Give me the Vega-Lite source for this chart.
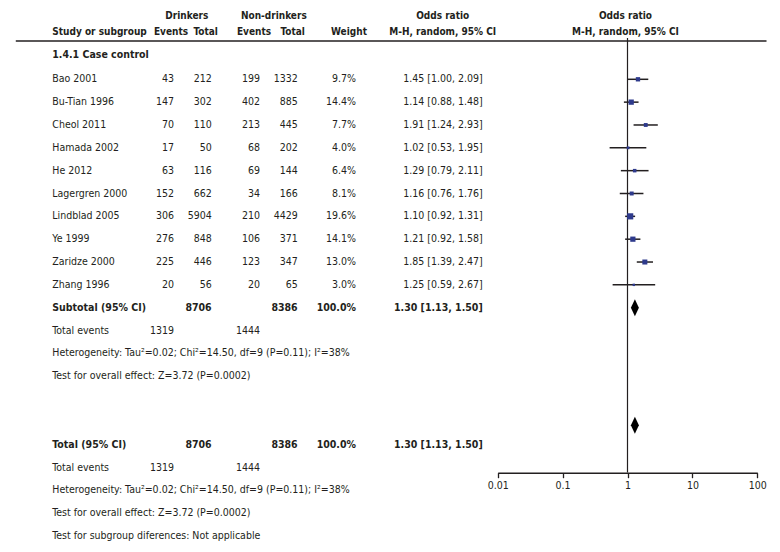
{
  "$schema": "https://vega.github.io/schema/vega-lite/v6.json",
  "width": 780,
  "height": 552,
  "autosize": {"type": "fit", "contains": "padding"},
  "padding": 0,
  "background": "white",
  "config": {
    "view": {"stroke": null},
    "text": {"font": "DejaVu Sans Condensed, Roboto, sans-serif", "fontSize": 10.5, "color": "#231f20", "baseline": "middle"},
    "axis": {"labelFont": "DejaVu Sans Condensed, Roboto, sans-serif", "labelFontSize": 10.5, "labelColor": "#231f20"}
  },
  "datasets": {
    "rows": [
      {"row": -1.05, "label": "1.4.1 Case control", "kind": "group"},
      {"row": 0, "label": "Bao 2001", "kind": "study", "e1": 43, "t1": 212, "e2": 199, "t2": 1332, "wt": 0.097, "or": 1.45, "lo": 1.00, "hi": 2.09, "ortext": "1.45 [1.00, 2.09]"},
      {"row": 1, "label": "Bu-Tian 1996", "kind": "study", "e1": 147, "t1": 302, "e2": 402, "t2": 885, "wt": 0.144, "or": 1.14, "lo": 0.88, "hi": 1.48, "ortext": "1.14 [0.88, 1.48]"},
      {"row": 2, "label": "Cheol 2011", "kind": "study", "e1": 70, "t1": 110, "e2": 213, "t2": 445, "wt": 0.077, "or": 1.91, "lo": 1.24, "hi": 2.93, "ortext": "1.91 [1.24, 2.93]"},
      {"row": 3, "label": "Hamada 2002", "kind": "study", "e1": 17, "t1": 50, "e2": 68, "t2": 202, "wt": 0.040, "or": 1.02, "lo": 0.53, "hi": 1.95, "ortext": "1.02 [0.53, 1.95]"},
      {"row": 4, "label": "He 2012", "kind": "study", "e1": 63, "t1": 116, "e2": 69, "t2": 144, "wt": 0.064, "or": 1.29, "lo": 0.79, "hi": 2.11, "ortext": "1.29 [0.79, 2.11]"},
      {"row": 5, "label": "Lagergren 2000", "kind": "study", "e1": 152, "t1": 662, "e2": 34, "t2": 166, "wt": 0.081, "or": 1.16, "lo": 0.76, "hi": 1.76, "ortext": "1.16 [0.76, 1.76]"},
      {"row": 6, "label": "Lindblad 2005", "kind": "study", "e1": 306, "t1": 5904, "e2": 210, "t2": 4429, "wt": 0.196, "or": 1.10, "lo": 0.92, "hi": 1.31, "ortext": "1.10 [0.92, 1.31]"},
      {"row": 7, "label": "Ye 1999", "kind": "study", "e1": 276, "t1": 848, "e2": 106, "t2": 371, "wt": 0.141, "or": 1.21, "lo": 0.92, "hi": 1.58, "ortext": "1.21 [0.92, 1.58]"},
      {"row": 8, "label": "Zaridze 2000", "kind": "study", "e1": 225, "t1": 446, "e2": 123, "t2": 347, "wt": 0.130, "or": 1.85, "lo": 1.39, "hi": 2.47, "ortext": "1.85 [1.39, 2.47]"},
      {"row": 9, "label": "Zhang 1996", "kind": "study", "e1": 20, "t1": 56, "e2": 20, "t2": 65, "wt": 0.030, "or": 1.25, "lo": 0.59, "hi": 2.67, "ortext": "1.25 [0.59, 2.67]"},
      {"row": 10, "label": "Subtotal (95% CI)", "kind": "summary", "t1": 8706, "t2": 8386, "wt": 1.0, "or": 1.30, "lo": 1.13, "hi": 1.50, "ortext": "1.30 [1.13, 1.50]", "drow": 10},
      {"row": 11, "label": "Total events", "kind": "note", "e1": 1319, "e2": 1444},
      {"row": 12, "label": "Heterogeneity: Tau²=0.02; Chi²=14.50, df=9 (P=0.11); I²=38%", "kind": "note"},
      {"row": 13, "label": "Test for overall effect: Z=3.72 (P=0.0002)", "kind": "note"},
      {"row": 16, "label": "Total (95% CI)", "kind": "summary", "t1": 8706, "t2": 8386, "wt": 1.0, "or": 1.30, "lo": 1.13, "hi": 1.50, "ortext": "1.30 [1.13, 1.50]", "drow": 15.15},
      {"row": 17, "label": "Total events", "kind": "note", "e1": 1319, "e2": 1444},
      {"row": 18, "label": "Heterogeneity: Tau²=0.02; Chi²=14.50, df=9 (P=0.11); I²=38%", "kind": "note"},
      {"row": 19, "label": "Test for overall effect: Z=3.72 (P=0.0002)", "kind": "note"},
      {"row": 20, "label": "Test for subgroup diferences: Not applicable", "kind": "note"}
    ],
    "heads": [
      {"row": -2.77, "drink": "Drinkers", "nondrink": "Non-drinkers", "orh": "Odds ratio"},
      {"row": -2.07, "study": "Study or subgroup", "e1": "Events", "t1": "Total", "e2": "Events", "t2": "Total", "w": "Weight", "orh": "M-H, random, 95% CI"}
    ],
    "lines": [
      {"top": -1.81, "bottom": 17.22, "rulerow": -1.677, "null_or": 1}
    ]
  },
  "layer": [
    {
      "layer": [
        {"data": {"name": "rows"}, "transform": [{"filter": "datum.kind == 'study' || datum.kind == 'note'"}],
         "mark": {"type": "text", "align": "left"},
         "encoding": {"x": {"datum": 0, "type": "quantitative", "scale": {"domain": [0,1,2,3,4,5,6], "range": [52.3,174,211.7,260,297.7,356,482.7], "nice": false, "zero": false}, "axis": null},
                      "y": {"field": "row", "type": "quantitative", "scale": {"domain": [-3.472, 20.696], "reverse": true, "nice": false, "zero": false}, "axis": null},
                      "text": {"field": "label", "type": "nominal"}}},
        {"data": {"name": "rows"}, "transform": [{"filter": "datum.kind == 'group' || datum.kind == 'summary'"}],
         "mark": {"type": "text", "align": "left", "fontWeight": "bold"},
         "encoding": {"x": {"datum": 0, "type": "quantitative", "scale": {"domain": [0,1,2,3,4,5,6], "range": [52.3,174,211.7,260,297.7,356,482.7], "nice": false, "zero": false}, "axis": null},
                      "y": {"field": "row", "type": "quantitative", "scale": {"domain": [-3.472, 20.696], "reverse": true, "nice": false, "zero": false}, "axis": null},
                      "text": {"field": "label", "type": "nominal"}}},
        {"data": {"name": "rows"}, "transform": [{"filter": "isValid(datum.e1)"}],
         "mark": {"type": "text", "align": "right"},
         "encoding": {"x": {"datum": 1, "type": "quantitative", "scale": {"domain": [0,1,2,3,4,5,6], "range": [52.3,174,211.7,260,297.7,356,482.7], "nice": false, "zero": false}, "axis": null},
                      "y": {"field": "row", "type": "quantitative", "scale": {"domain": [-3.472, 20.696], "reverse": true, "nice": false, "zero": false}, "axis": null},
                      "text": {"field": "e1", "type": "nominal"}}},
        {"data": {"name": "rows"}, "transform": [{"filter": "isValid(datum.e2)"}],
         "mark": {"type": "text", "align": "right"},
         "encoding": {"x": {"datum": 3, "type": "quantitative", "scale": {"domain": [0,1,2,3,4,5,6], "range": [52.3,174,211.7,260,297.7,356,482.7], "nice": false, "zero": false}, "axis": null},
                      "y": {"field": "row", "type": "quantitative", "scale": {"domain": [-3.472, 20.696], "reverse": true, "nice": false, "zero": false}, "axis": null},
                      "text": {"field": "e2", "type": "nominal"}}},
        {"data": {"name": "rows"}, "transform": [{"filter": "datum.kind == 'study'"}],
         "mark": {"type": "text", "align": "right"},
         "encoding": {"x": {"datum": 2, "type": "quantitative", "scale": {"domain": [0,1,2,3,4,5,6], "range": [52.3,174,211.7,260,297.7,356,482.7], "nice": false, "zero": false}, "axis": null},
                      "y": {"field": "row", "type": "quantitative", "scale": {"domain": [-3.472, 20.696], "reverse": true, "nice": false, "zero": false}, "axis": null},
                      "text": {"field": "t1", "type": "nominal"}}},
        {"data": {"name": "rows"}, "transform": [{"filter": "datum.kind == 'summary'"}],
         "mark": {"type": "text", "align": "right", "fontWeight": "bold"},
         "encoding": {"x": {"datum": 2, "type": "quantitative", "scale": {"domain": [0,1,2,3,4,5,6], "range": [52.3,174,211.7,260,297.7,356,482.7], "nice": false, "zero": false}, "axis": null},
                      "y": {"field": "row", "type": "quantitative", "scale": {"domain": [-3.472, 20.696], "reverse": true, "nice": false, "zero": false}, "axis": null},
                      "text": {"field": "t1", "type": "nominal"}}},
        {"data": {"name": "rows"}, "transform": [{"filter": "datum.kind == 'study'"}],
         "mark": {"type": "text", "align": "right"},
         "encoding": {"x": {"datum": 4, "type": "quantitative", "scale": {"domain": [0,1,2,3,4,5,6], "range": [52.3,174,211.7,260,297.7,356,482.7], "nice": false, "zero": false}, "axis": null},
                      "y": {"field": "row", "type": "quantitative", "scale": {"domain": [-3.472, 20.696], "reverse": true, "nice": false, "zero": false}, "axis": null},
                      "text": {"field": "t2", "type": "nominal"}}},
        {"data": {"name": "rows"}, "transform": [{"filter": "datum.kind == 'summary'"}],
         "mark": {"type": "text", "align": "right", "fontWeight": "bold"},
         "encoding": {"x": {"datum": 4, "type": "quantitative", "scale": {"domain": [0,1,2,3,4,5,6], "range": [52.3,174,211.7,260,297.7,356,482.7], "nice": false, "zero": false}, "axis": null},
                      "y": {"field": "row", "type": "quantitative", "scale": {"domain": [-3.472, 20.696], "reverse": true, "nice": false, "zero": false}, "axis": null},
                      "text": {"field": "t2", "type": "nominal"}}},
        {"data": {"name": "rows"}, "transform": [{"filter": "datum.kind == 'study'"}],
         "mark": {"type": "text", "align": "right"},
         "encoding": {"x": {"datum": 5, "type": "quantitative", "scale": {"domain": [0,1,2,3,4,5,6], "range": [52.3,174,211.7,260,297.7,356,482.7], "nice": false, "zero": false}, "axis": null},
                      "y": {"field": "row", "type": "quantitative", "scale": {"domain": [-3.472, 20.696], "reverse": true, "nice": false, "zero": false}, "axis": null},
                      "text": {"field": "wt", "type": "quantitative", "format": ".1%"}}},
        {"data": {"name": "rows"}, "transform": [{"filter": "datum.kind == 'summary'"}],
         "mark": {"type": "text", "align": "right", "fontWeight": "bold"},
         "encoding": {"x": {"datum": 5, "type": "quantitative", "scale": {"domain": [0,1,2,3,4,5,6], "range": [52.3,174,211.7,260,297.7,356,482.7], "nice": false, "zero": false}, "axis": null},
                      "y": {"field": "row", "type": "quantitative", "scale": {"domain": [-3.472, 20.696], "reverse": true, "nice": false, "zero": false}, "axis": null},
                      "text": {"field": "wt", "type": "quantitative", "format": ".1%"}}},
        {"data": {"name": "rows"}, "transform": [{"filter": "datum.kind == 'study'"}],
         "mark": {"type": "text", "align": "right"},
         "encoding": {"x": {"datum": 6, "type": "quantitative", "scale": {"domain": [0,1,2,3,4,5,6], "range": [52.3,174,211.7,260,297.7,356,482.7], "nice": false, "zero": false}, "axis": null},
                      "y": {"field": "row", "type": "quantitative", "scale": {"domain": [-3.472, 20.696], "reverse": true, "nice": false, "zero": false}, "axis": null},
                      "text": {"field": "ortext", "type": "nominal"}}},
        {"data": {"name": "rows"}, "transform": [{"filter": "datum.kind == 'summary'"}],
         "mark": {"type": "text", "align": "right", "fontWeight": "bold"},
         "encoding": {"x": {"datum": 6, "type": "quantitative", "scale": {"domain": [0,1,2,3,4,5,6], "range": [52.3,174,211.7,260,297.7,356,482.7], "nice": false, "zero": false}, "axis": null},
                      "y": {"field": "row", "type": "quantitative", "scale": {"domain": [-3.472, 20.696], "reverse": true, "nice": false, "zero": false}, "axis": null},
                      "text": {"field": "ortext", "type": "nominal"}}},
        {"data": {"name": "heads"}, "transform": [{"filter": "isValid(datum.study)"}],
         "mark": {"type": "text", "align": "left", "fontWeight": "bold", "fontSize": 10},
         "encoding": {"x": {"datum": 0, "type": "quantitative", "scale": {"domain": [0,1,2,3,4,5,6], "range": [52.3,174,211.7,260,297.7,356,482.7], "nice": false, "zero": false}, "axis": null},
                      "y": {"field": "row", "type": "quantitative", "scale": {"domain": [-3.472, 20.696], "reverse": true, "nice": false, "zero": false}, "axis": null},
                      "text": {"field": "study", "type": "nominal"}}},
        {"data": {"name": "heads"}, "transform": [{"filter": "isValid(datum.drink)"}],
         "mark": {"type": "text", "align": "center", "fontWeight": "bold", "fontSize": 10, "dx": -6},
         "encoding": {"x": {"datum": 1.5, "type": "quantitative", "scale": {"domain": [0,1,2,3,4,5,6], "range": [52.3,174,211.7,260,297.7,356,482.7], "nice": false, "zero": false}, "axis": null},
                      "y": {"field": "row", "type": "quantitative", "scale": {"domain": [-3.472, 20.696], "reverse": true, "nice": false, "zero": false}, "axis": null},
                      "text": {"field": "drink", "type": "nominal"}}},
        {"data": {"name": "heads"}, "transform": [{"filter": "isValid(datum.nondrink)"}],
         "mark": {"type": "text", "align": "center", "fontWeight": "bold", "fontSize": 10, "dx": -5},
         "encoding": {"x": {"datum": 3.5, "type": "quantitative", "scale": {"domain": [0,1,2,3,4,5,6], "range": [52.3,174,211.7,260,297.7,356,482.7], "nice": false, "zero": false}, "axis": null},
                      "y": {"field": "row", "type": "quantitative", "scale": {"domain": [-3.472, 20.696], "reverse": true, "nice": false, "zero": false}, "axis": null},
                      "text": {"field": "nondrink", "type": "nominal"}}},
        {"data": {"name": "heads"}, "transform": [{"filter": "isValid(datum.e1)"}],
         "mark": {"type": "text", "align": "center", "fontWeight": "bold", "fontSize": 10, "dx": -3},
         "encoding": {"x": {"datum": 1, "type": "quantitative", "scale": {"domain": [0,1,2,3,4,5,6], "range": [52.3,174,211.7,260,297.7,356,482.7], "nice": false, "zero": false}, "axis": null},
                      "y": {"field": "row", "type": "quantitative", "scale": {"domain": [-3.472, 20.696], "reverse": true, "nice": false, "zero": false}, "axis": null},
                      "text": {"field": "e1", "type": "nominal"}}},
        {"data": {"name": "heads"}, "transform": [{"filter": "isValid(datum.t1)"}],
         "mark": {"type": "text", "align": "center", "fontWeight": "bold", "fontSize": 10, "dx": -6},
         "encoding": {"x": {"datum": 2, "type": "quantitative", "scale": {"domain": [0,1,2,3,4,5,6], "range": [52.3,174,211.7,260,297.7,356,482.7], "nice": false, "zero": false}, "axis": null},
                      "y": {"field": "row", "type": "quantitative", "scale": {"domain": [-3.472, 20.696], "reverse": true, "nice": false, "zero": false}, "axis": null},
                      "text": {"field": "t1", "type": "nominal"}}},
        {"data": {"name": "heads"}, "transform": [{"filter": "isValid(datum.e2)"}],
         "mark": {"type": "text", "align": "center", "fontWeight": "bold", "fontSize": 10, "dx": -6},
         "encoding": {"x": {"datum": 3, "type": "quantitative", "scale": {"domain": [0,1,2,3,4,5,6], "range": [52.3,174,211.7,260,297.7,356,482.7], "nice": false, "zero": false}, "axis": null},
                      "y": {"field": "row", "type": "quantitative", "scale": {"domain": [-3.472, 20.696], "reverse": true, "nice": false, "zero": false}, "axis": null},
                      "text": {"field": "e2", "type": "nominal"}}},
        {"data": {"name": "heads"}, "transform": [{"filter": "isValid(datum.t2)"}],
         "mark": {"type": "text", "align": "center", "fontWeight": "bold", "fontSize": 10, "dx": -5},
         "encoding": {"x": {"datum": 4, "type": "quantitative", "scale": {"domain": [0,1,2,3,4,5,6], "range": [52.3,174,211.7,260,297.7,356,482.7], "nice": false, "zero": false}, "axis": null},
                      "y": {"field": "row", "type": "quantitative", "scale": {"domain": [-3.472, 20.696], "reverse": true, "nice": false, "zero": false}, "axis": null},
                      "text": {"field": "t2", "type": "nominal"}}},
        {"data": {"name": "heads"}, "transform": [{"filter": "isValid(datum.w)"}],
         "mark": {"type": "text", "align": "center", "fontWeight": "bold", "fontSize": 10, "dx": -7},
         "encoding": {"x": {"datum": 5, "type": "quantitative", "scale": {"domain": [0,1,2,3,4,5,6], "range": [52.3,174,211.7,260,297.7,356,482.7], "nice": false, "zero": false}, "axis": null},
                      "y": {"field": "row", "type": "quantitative", "scale": {"domain": [-3.472, 20.696], "reverse": true, "nice": false, "zero": false}, "axis": null},
                      "text": {"field": "w", "type": "nominal"}}},
        {"data": {"name": "heads"}, "transform": [{"filter": "isValid(datum.orh)"}],
         "mark": {"type": "text", "align": "center", "fontWeight": "bold", "fontSize": 10, "dx": -40},
         "encoding": {"x": {"datum": 6, "type": "quantitative", "scale": {"domain": [0,1,2,3,4,5,6], "range": [52.3,174,211.7,260,297.7,356,482.7], "nice": false, "zero": false}, "axis": null},
                      "y": {"field": "row", "type": "quantitative", "scale": {"domain": [-3.472, 20.696], "reverse": true, "nice": false, "zero": false}, "axis": null},
                      "text": {"field": "orh", "type": "nominal"}}},
        {"data": {"name": "lines"},
         "mark": {"type": "rule", "color": "#231f20", "strokeWidth": 1.6},
         "encoding": {"x": {"datum": -0.3, "type": "quantitative", "scale": {"domain": [0,1,2,3,4,5,6], "range": [52.3,174,211.7,260,297.7,356,482.7], "nice": false, "zero": false}, "axis": null},
                      "x2": {"datum": 8.24},
                      "y": {"field": "rulerow", "type": "quantitative", "scale": {"domain": [-3.472, 20.696], "reverse": true, "nice": false, "zero": false}, "axis": null}}}
      ]
    },
    {
      "layer": [
        {"data": {"name": "lines"},
         "mark": {"type": "rule", "color": "#231f20", "strokeWidth": 1.2},
         "encoding": {"x": {"field": "null_or", "type": "quantitative", "scale": {"type": "log", "domain": [0.01, 100], "range": [497.7, 757.3], "nice": false},
                            "axis": {"orient": "bottom", "offset": -79.3, "values": [0.01, 0.1, 1, 10, 100], "format": "~g", "title": null, "grid": false, "labelFlush": false, "domainColor": "#231f20", "domainWidth": 1.6, "tickColor": "#231f20", "tickWidth": 1.3, "tickSize": 5, "labelPadding": 3}},
                      "y": {"field": "top", "type": "quantitative", "scale": {"domain": [-3.472, 20.696], "reverse": true, "nice": false, "zero": false}, "axis": null},
                      "y2": {"field": "bottom"}}},
        {"data": {"name": "rows"}, "transform": [{"filter": "datum.kind == 'study'"}],
         "mark": {"type": "rule", "color": "#231f20", "strokeWidth": 1.5},
         "encoding": {"x": {"field": "lo", "type": "quantitative", "scale": {"type": "log", "domain": [0.01, 100], "range": [497.7, 757.3], "nice": false},
                            "axis": {"orient": "bottom", "offset": -79.3, "values": [0.01, 0.1, 1, 10, 100], "format": "~g", "title": null, "grid": false, "labelFlush": false, "domainColor": "#231f20", "domainWidth": 1.6, "tickColor": "#231f20", "tickWidth": 1.3, "tickSize": 5, "labelPadding": 3}},
                      "x2": {"field": "hi"},
                      "y": {"field": "row", "type": "quantitative", "scale": {"domain": [-3.472, 20.696], "reverse": true, "nice": false, "zero": false}, "axis": null}}},
        {"data": {"name": "rows"}, "transform": [{"filter": "datum.kind == 'study'"}],
         "mark": {"type": "square", "filled": true, "color": "#2e3a8c", "opacity": 1},
         "encoding": {"x": {"field": "or", "type": "quantitative", "scale": {"type": "log", "domain": [0.01, 100], "range": [497.7, 757.3], "nice": false},
                            "axis": {"orient": "bottom", "offset": -79.3, "values": [0.01, 0.1, 1, 10, 100], "format": "~g", "title": null, "grid": false, "labelFlush": false, "domainColor": "#231f20", "domainWidth": 1.6, "tickColor": "#231f20", "tickWidth": 1.3, "tickSize": 5, "labelPadding": 3}},
                      "y": {"field": "row", "type": "quantitative", "scale": {"domain": [-3.472, 20.696], "reverse": true, "nice": false, "zero": false}, "axis": null},
                      "size": {"field": "wt", "type": "quantitative", "scale": {"domain": [0, 0.196], "range": [0, 38]}, "legend": null}}},
        {"data": {"name": "rows"}, "transform": [{"filter": "datum.kind == 'summary'"}],
         "mark": {"type": "point", "shape": "M-0.47,0L0,-1L0.47,0L0,1Z", "filled": true, "color": "#000000", "opacity": 1, "size": 289},
         "encoding": {"x": {"field": "or", "type": "quantitative", "scale": {"type": "log", "domain": [0.01, 100], "range": [497.7, 757.3], "nice": false},
                            "axis": {"orient": "bottom", "offset": -79.3, "values": [0.01, 0.1, 1, 10, 100], "format": "~g", "title": null, "grid": false, "labelFlush": false, "domainColor": "#231f20", "domainWidth": 1.6, "tickColor": "#231f20", "tickWidth": 1.3, "tickSize": 5, "labelPadding": 3}},
                      "y": {"field": "drow", "type": "quantitative", "scale": {"domain": [-3.472, 20.696], "reverse": true, "nice": false, "zero": false}, "axis": null}}},
        {"data": {"name": "heads"}, "transform": [{"filter": "isValid(datum.orh)"}],
         "mark": {"type": "text", "align": "center", "fontWeight": "bold", "fontSize": 10, "dx": -2},
         "encoding": {"x": {"datum": 1, "type": "quantitative", "scale": {"type": "log", "domain": [0.01, 100], "range": [497.7, 757.3], "nice": false},
                            "axis": {"orient": "bottom", "offset": -79.3, "values": [0.01, 0.1, 1, 10, 100], "format": "~g", "title": null, "grid": false, "labelFlush": false, "domainColor": "#231f20", "domainWidth": 1.6, "tickColor": "#231f20", "tickWidth": 1.3, "tickSize": 5, "labelPadding": 3}},
                      "y": {"field": "row", "type": "quantitative", "scale": {"domain": [-3.472, 20.696], "reverse": true, "nice": false, "zero": false}, "axis": null},
                      "text": {"field": "orh", "type": "nominal"}}}
      ]
    }
  ],
  "resolve": {"scale": {"x": "independent"}}
}
